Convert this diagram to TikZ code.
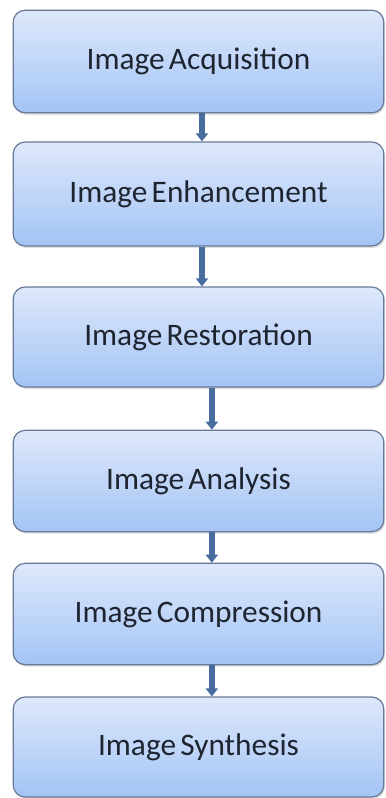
\documentclass[tikz,border=0pt]{standalone}
\usepackage{fontspec}
\setmainfont[WordSpace=0.6]{Carlito}
\usetikzlibrary{arrows.meta,shadows}
\definecolor{boxtop}{RGB}{222,232,251}
\definecolor{boxbot}{RGB}{163,196,245}
\definecolor{boxline}{RGB}{104,122,152}
\definecolor{flecheblue}{RGB}{72,108,158}
\definecolor{textdark}{RGB}{30,36,48}
\begin{document}
\begin{tikzpicture}[x=0.75pt,y=-0.75pt,
    etape/.style={draw=boxline,line width=0.9pt,rounded corners=9pt,
      top color=boxtop,bottom color=boxbot,
      minimum width=278pt,minimum height=76pt,inner sep=0pt,
      text=textdark,font=\fontsize{23.5}{26}\selectfont,
      drop shadow={opacity=0.25,shadow xshift=1pt,shadow yshift=-1.5pt}},
    fleche/.style={draw=flecheblue,line width=4.2pt,
      -{Triangle[width=9pt,length=6pt]}}]
  \useasboundingbox (0,0) rectangle (385,798);

  % Les six etapes du traitement d'image
  \node[etape,minimum height=77pt] (acq) at (198.5,61.5) {Image Acquisition};
  \node[etape,minimum height=78pt] (enh) at (198.5,194) {Image Enhancement};
  \node[etape,minimum height=75pt] (res) at (198.5,337) {Image Restoration};
  \node[etape] (ana) at (198.5,481) {Image Analysis};
  \node[etape] (com) at (198.5,614) {Image Compression};
  \node[etape,minimum height=75pt] (syn) at (198.5,747) {Image Synthesis};

  % Fleches entre les etapes
  \draw[fleche] ([xshift=2.6pt]acq.south) -- ([xshift=2.6pt]enh.north);
  \draw[fleche] ([xshift=2.6pt]enh.south) -- ([xshift=2.6pt]res.north);
  \draw[fleche] ([xshift=10pt]res.south) -- ([xshift=10pt]ana.north);
  \draw[fleche] ([xshift=10pt]ana.south) -- ([xshift=10pt]com.north);
  \draw[fleche] ([xshift=10pt]com.south) -- ([xshift=10pt]syn.north);
\end{tikzpicture}
\end{document}
